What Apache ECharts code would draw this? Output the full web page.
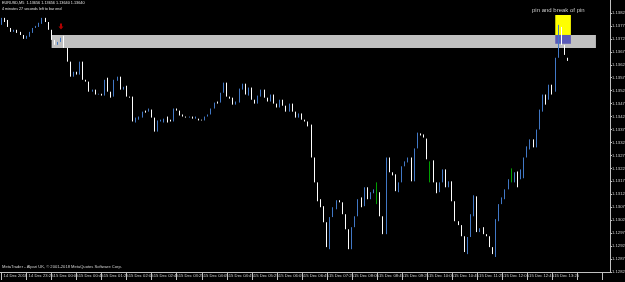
<!DOCTYPE html>
<html><head><meta charset="utf-8">
<script src="https://cdn.jsdelivr.net/npm/echarts@6/dist/echarts.min.js"></script>
<style>html,body{margin:0;padding:0;background:#000;}#c{width:625px;height:282px;}</style>
</head><body><div id="c"></div>
<script>
const tickLabels = ["14 Dec 2018","14 Dec 23:25","15 Dec 00:05","15 Dec 00:45","15 Dec 01:25","15 Dec 02:05","15 Dec 02:45","15 Dec 03:25","15 Dec 04:05","15 Dec 04:45","15 Dec 05:25","15 Dec 06:05","15 Dec 06:45","15 Dec 07:25","15 Dec 08:05","15 Dec 08:45","15 Dec 09:25","15 Dec 10:05","15 Dec 10:45","15 Dec 11:25","15 Dec 12:05","15 Dec 12:45","15 Dec 13:25"];
const priceTicks = [1.12825,1.12875,1.12925,1.12975,1.13025,1.13075,1.13125,1.13175,1.13225,1.13275,1.13325,1.13375,1.13425,1.13475,1.13525,1.13575,1.13625,1.13675,1.13725,1.13775,1.13825];

const openValues = [1.13779,1.13806,1.13798,1.13767,1.13752,1.13760,1.13752,1.13740,1.13725,1.13733,
1.13748,1.13767,1.13771,1.13783,1.13806,1.13790,1.13760,1.13721,1.13702,1.13713,
1.13737,1.13690,1.13637,1.13579,1.13598,1.13587,1.13637,1.13567,1.13560,1.13521,
1.13529,1.13510,1.13513,1.13506,1.13575,1.13521,1.13502,1.13563,1.13579,1.13529,
1.13544,1.13502,1.13502,1.13402,1.13413,1.13421,1.13448,1.13444,1.13452,1.13421,
1.13367,1.13406,1.13402,1.13425,1.13413,1.13406,1.13456,1.13448,1.13433,1.13425,
1.13421,1.13425,1.13417,1.13417,1.13413,1.13410,1.13425,1.13433,1.13456,1.13483,
1.13479,1.13517,1.13556,1.13502,1.13498,1.13471,1.13479,1.13529,1.13552,1.13506,
1.13537,1.13490,1.13475,1.13502,1.13529,1.13498,1.13483,1.13510,1.13475,1.13460,
1.13490,1.13467,1.13444,1.13475,1.13444,1.13421,1.13437,1.13413,1.13406,1.13394,
1.13267,1.13171,1.13106,1.13079,1.13017,1.12913,1.13037,1.13067,1.13102,1.13094,
1.13048,1.12990,1.12913,1.12998,1.13040,1.13113,1.13079,1.13152,1.13106,1.13129,
1.13137,1.13133,1.13040,1.12971,1.13267,1.13210,1.13202,1.13133,1.13171,1.13233,
1.13248,1.13267,1.13175,1.13302,1.13360,1.13356,1.13340,1.13240,1.13256,1.13171,
1.13133,1.13171,1.13221,1.13152,1.13175,1.13098,1.13021,1.13006,1.12963,1.12894,
1.12960,1.13040,1.13117,1.12979,1.12998,1.12971,1.12963,1.12921,1.12883,1.13021,
1.13087,1.13106,1.13144,1.13183,1.13171,1.13213,1.13183,1.13187,1.13267,1.13298,
1.13337,1.13306,1.13375,1.13444,1.13510,1.13490,1.13548,1.13521,1.13652,1.13713,
1.13702,1.13652];

const closeValues = [1.13806,1.13790,1.13771,1.13752,1.13760,1.13748,1.13740,1.13725,1.13737,1.13752,
1.13767,1.13775,1.13787,1.13806,1.13790,1.13760,1.13721,1.13702,1.13713,1.13729,
1.13690,1.13637,1.13579,1.13598,1.13587,1.13637,1.13567,1.13560,1.13521,1.13529,
1.13510,1.13513,1.13506,1.13567,1.13521,1.13498,1.13567,1.13579,1.13529,1.13540,
1.13502,1.13498,1.13406,1.13421,1.13425,1.13444,1.13440,1.13456,1.13421,1.13367,
1.13410,1.13413,1.13417,1.13402,1.13406,1.13456,1.13448,1.13429,1.13425,1.13421,
1.13425,1.13417,1.13425,1.13410,1.13410,1.13425,1.13433,1.13456,1.13479,1.13475,
1.13517,1.13556,1.13502,1.13494,1.13471,1.13483,1.13533,1.13552,1.13510,1.13537,
1.13490,1.13475,1.13506,1.13529,1.13498,1.13483,1.13510,1.13475,1.13460,1.13490,
1.13467,1.13444,1.13475,1.13444,1.13421,1.13437,1.13413,1.13406,1.13387,1.13267,
1.13171,1.13098,1.13075,1.13017,1.12921,1.13037,1.13075,1.13102,1.13094,1.13048,
1.12990,1.12913,1.12998,1.13040,1.13106,1.13075,1.13152,1.13106,1.13133,1.13144,
1.13137,1.13040,1.12971,1.13267,1.13210,1.13198,1.13137,1.13171,1.13233,1.13252,
1.13267,1.13175,1.13302,1.13363,1.13352,1.13344,1.13260,1.13240,1.13171,1.13129,
1.13171,1.13221,1.13152,1.13175,1.13098,1.13021,1.13006,1.12963,1.12902,1.12960,
1.13048,1.13121,1.12979,1.12994,1.12971,1.12963,1.12921,1.12894,1.13029,1.13087,
1.13113,1.13144,1.13183,1.13183,1.13210,1.13152,1.13221,1.13267,1.13310,1.13337,
1.13306,1.13375,1.13452,1.13510,1.13471,1.13548,1.13510,1.13652,1.13713,1.13702,
1.13663,1.13640];

const highValues = [1.13806,1.13806,1.13798,1.13767,1.13760,1.13760,1.13752,1.13740,1.13737,1.13752,
1.13767,1.13775,1.13787,1.13806,1.13806,1.13790,1.13760,1.13721,1.13713,1.13729,
1.13737,1.13690,1.13637,1.13598,1.13598,1.13637,1.13637,1.13567,1.13560,1.13529,
1.13529,1.13513,1.13513,1.13567,1.13575,1.13521,1.13567,1.13579,1.13579,1.13540,
1.13544,1.13502,1.13502,1.13421,1.13425,1.13444,1.13448,1.13456,1.13452,1.13421,
1.13410,1.13413,1.13417,1.13425,1.13413,1.13456,1.13456,1.13448,1.13433,1.13425,
1.13425,1.13425,1.13425,1.13417,1.13413,1.13425,1.13433,1.13456,1.13479,1.13483,
1.13517,1.13556,1.13556,1.13502,1.13498,1.13483,1.13533,1.13552,1.13552,1.13537,
1.13537,1.13490,1.13506,1.13529,1.13529,1.13498,1.13510,1.13510,1.13475,1.13490,
1.13490,1.13467,1.13475,1.13475,1.13444,1.13437,1.13437,1.13413,1.13406,1.13394,
1.13267,1.13171,1.13106,1.13079,1.13017,1.13037,1.13075,1.13102,1.13102,1.13094,
1.13048,1.12990,1.12998,1.13040,1.13106,1.13113,1.13152,1.13152,1.13133,1.13144,
1.13171,1.13133,1.13040,1.13267,1.13267,1.13210,1.13202,1.13171,1.13233,1.13252,
1.13267,1.13267,1.13302,1.13363,1.13360,1.13356,1.13340,1.13252,1.13256,1.13171,
1.13171,1.13221,1.13221,1.13175,1.13175,1.13098,1.13021,1.13006,1.12963,1.12960,
1.13048,1.13121,1.13117,1.12994,1.12998,1.12971,1.12963,1.12921,1.13029,1.13087,
1.13113,1.13144,1.13183,1.13225,1.13210,1.13213,1.13221,1.13267,1.13310,1.13337,
1.13337,1.13375,1.13452,1.13510,1.13510,1.13548,1.13548,1.13652,1.13779,1.13771,
1.13702,1.13652];

const lowValues = [1.13779,1.13790,1.13771,1.13752,1.13752,1.13748,1.13740,1.13725,1.13725,1.13733,
1.13748,1.13767,1.13771,1.13783,1.13790,1.13760,1.13721,1.13702,1.13702,1.13713,
1.13690,1.13637,1.13579,1.13579,1.13587,1.13587,1.13567,1.13560,1.13521,1.13521,
1.13510,1.13510,1.13506,1.13506,1.13521,1.13498,1.13502,1.13563,1.13529,1.13529,
1.13502,1.13498,1.13406,1.13402,1.13413,1.13421,1.13440,1.13444,1.13421,1.13367,
1.13367,1.13406,1.13402,1.13402,1.13406,1.13406,1.13448,1.13429,1.13425,1.13421,
1.13421,1.13417,1.13417,1.13410,1.13410,1.13410,1.13425,1.13433,1.13456,1.13475,
1.13479,1.13517,1.13502,1.13494,1.13471,1.13471,1.13479,1.13529,1.13510,1.13506,
1.13490,1.13475,1.13475,1.13502,1.13498,1.13483,1.13483,1.13475,1.13460,1.13460,
1.13467,1.13444,1.13444,1.13444,1.13421,1.13421,1.13413,1.13406,1.13387,1.13267,
1.13171,1.13098,1.13075,1.13017,1.12921,1.12913,1.13037,1.13067,1.13094,1.13048,
1.12990,1.12913,1.12913,1.12998,1.13040,1.13075,1.13079,1.13106,1.13106,1.13129,
1.13087,1.13040,1.12971,1.12971,1.13210,1.13198,1.13137,1.13133,1.13171,1.13233,
1.13248,1.13175,1.13175,1.13302,1.13352,1.13344,1.13260,1.13171,1.13171,1.13129,
1.13133,1.13171,1.13152,1.13152,1.13098,1.13021,1.13006,1.12963,1.12902,1.12894,
1.12960,1.13040,1.12979,1.12979,1.12971,1.12963,1.12921,1.12894,1.12883,1.13021,
1.13087,1.13106,1.13144,1.13171,1.13171,1.13152,1.13183,1.13187,1.13267,1.13298,
1.13306,1.13306,1.13375,1.13444,1.13471,1.13490,1.13510,1.13521,1.13652,1.13702,
1.13663,1.13640];

const barSlots = 195;          // visible bar slots incl. empty right shift
const labelEvery = 8;
const bidPrice = 1.13640;
const orderPrice = 1.13652;
const orderName = '#37100047_sell';
const zoneTop = 1.13740, zoneBottom = 1.13690, zoneFrom = 16, zoneTo = 190;
const boxTop = 1.13817, boxBottom = 1.13706, boxFrom = 177, boxTo = 182;
const arrowBar = 19, arrowPrice = 1.13773;

const categories = [];
for (let i = 0; i < barSlots; i++) categories.push(String(i));
const candleData = openValues.map((o, i) => [o, closeValues[i], lowValues[i], highValues[i]]);

const chart = echarts.init(document.getElementById('c'));
const font = 'Liberation Sans';
chart.setOption({
  backgroundColor: '#000000',
  animation: false,
  grid: { left: 0, right: 15, top: 0, bottom: 10, containLabel: false, outerBoundsMode: 'none' },
  xAxis: {
    type: 'category', data: categories, boundaryGap: true,
    axisLine: { lineStyle: { color: '#c0c0c0', width: 1 } },
    axisTick: { show: true, alignWithLabel: true, interval: labelEvery - 1, length: 8, lineStyle: { color: '#c0c0c0' } },
    axisLabel: {
      interval: labelEvery - 1, align: 'left', margin: 2, fontSize: 4.2, fontFamily: font, color: '#d0d0d0', padding: [0, 0, 0, 2],
      formatter: (v, idx) => tickLabels[idx / labelEvery] || ''
    },
    splitLine: { show: false }
  },
  yAxis: {
    type: 'value', position: 'right', min: 1.12825, max: 1.13875, scale: true,
    axisLine: { show: true, lineStyle: { color: '#c0c0c0' } },
    axisTick: { show: true, length: 2, customValues: priceTicks, lineStyle: { color: '#c0c0c0' } },
    axisLabel: { customValues: priceTicks, fontSize: 4.2, fontFamily: font, color: '#d0d0d0', margin: 2, formatter: v => v.toFixed(5) },
    splitLine: { show: false }
  },
  series: [{
    type: 'candlestick',
    data: candleData,
    barWidth: 1,
    itemStyle: {
      color: '#4178c6', color0: '#ffffff',
      borderColor: '#4178c6', borderColor0: '#ffffff', borderColorDoji: '#00a000',
      borderWidth: 1
    },
    markArea: {
      silent: true,
      data: [
        [{ xAxis: zoneFrom, yAxis: zoneTop, itemStyle: { color: '#c0c0c0', opacity: 1 } }, { xAxis: zoneTo, yAxis: zoneBottom }],
        [{ xAxis: boxFrom, yAxis: boxTop, itemStyle: { color: '#ffff00', opacity: 1 } }, { xAxis: boxTo, yAxis: zoneTop }],
        [{ xAxis: boxFrom, yAxis: zoneTop, itemStyle: { color: '#5a5ab8', opacity: 1 } }, { xAxis: boxTo, yAxis: boxBottom }]
      ]
    },
    markLine: {
      silent: true, symbol: 'none',
      data: [
        { yAxis: orderPrice, lineStyle: { color: '#00a000', type: [4, 2, 1, 2], width: 1 },
          label: { show: true, position: 'insideStartTop', formatter: orderName, color: '#d0d0d0', fontSize: 3.9, fontFamily: font, distance: [0, 1] } },
        { yAxis: bidPrice, lineStyle: { color: '#a8a8a8', type: 'solid', width: 1 },
          label: { show: true, position: 'end', formatter: bidPrice.toFixed(5), color: '#000', backgroundColor: '#ffffff', fontSize: 4.2, fontFamily: font, padding: [1, 1], distance: 2 } }
      ]
    },
    markPoint: {
      silent: true,
      data: [{ coord: [arrowBar, arrowPrice], symbol: 'path://M3,0 L7,0 L7,5 L10,5 L5,10 L0,5 L3,5 Z', symbolSize: [5, 6], itemStyle: { color: '#b00000' }, label: { show: false } }]
    }
  }],
  graphic: [
    { type: 'text', left: 2, top: 1, style: { text: 'EURUSD,M5  1.13656 1.13656 1.13640 1.13640', fill: '#e0e0e0', font: '3.8px ' + font } },
    { type: 'text', left: 2, top: 7, style: { text: '4 minutes 27 seconds left to bar end', fill: '#e0e0e0', font: '3.7px ' + font } },
    { type: 'text', left: 532, top: 7, style: { text: 'pin and break of pin', fill: '#c8c8c8', font: '6px ' + font } },
    { type: 'text', left: 2, top: 265, style: { text: 'MetaTrader - Alpari UK, © 2001-2018 MetaQuotes Software Corp.', fill: '#d0d0d0', font: '4.1px ' + font } }
  ]
});
</script></body></html>
